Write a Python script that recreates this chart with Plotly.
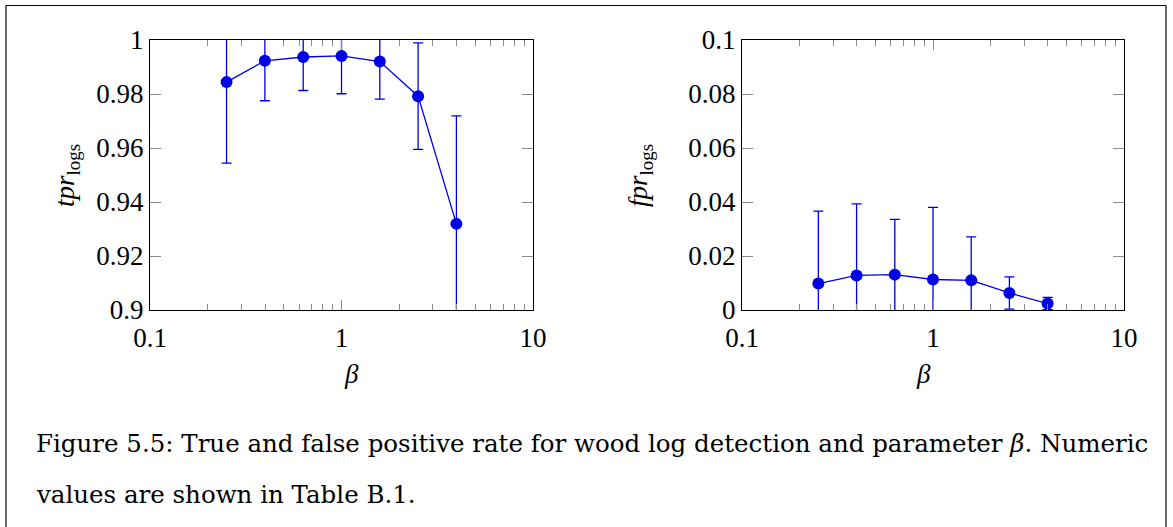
import plotly.graph_objects as go

beta = [0.251, 0.398, 0.631, 1.0, 1.585, 2.512, 3.981]
tpr = [0.9844, 0.9923, 0.9937, 0.9941, 0.9920, 0.9792, 0.9319]
tpr_err = [0.0300, 0.0148, 0.0124, 0.0140, 0.0139, 0.0197, 0.0400]
fpr = [0.0098, 0.0128, 0.0131, 0.0113, 0.0110, 0.0063, 0.0024]
fpr_err = [0.0268, 0.0265, 0.0205, 0.0267, 0.0161, 0.0060, 0.0023]

x_ticks = [0.1, 1, 10]
x_ticktext = ["0.1", "1", "10"]
x_minor = [0.2, 0.3, 0.4, 0.5, 0.6, 0.7, 0.8, 0.9, 2, 3, 4, 5, 6, 7, 8, 9]
tpr_ticks = [0.9, 0.92, 0.94, 0.96, 0.98, 1.0]
tpr_ticktext = ["0.9", "0.92", "0.94", "0.96", "0.98", "1"]
fpr_ticks = [0, 0.02, 0.04, 0.06, 0.08, 0.1]
fpr_ticktext = ["0", "0.02", "0.04", "0.06", "0.08", "0.1"]

W, H = 1173, 527
BLUE = "rgb(0,0,230)"
FONT = "Liberation Serif"

def px(x):
    return x / W

def py(y):
    return (H - y) / H

fig = go.Figure()
for data, err, xa, ya in [(tpr, tpr_err, "x", "y"), (fpr, fpr_err, "x2", "y2")]:
    fig.add_trace(go.Scatter(
        x=beta, y=data, mode="lines+markers", xaxis=xa, yaxis=ya,
        line=dict(color=BLUE, width=1.3),
        marker=dict(color=BLUE, size=12),
        error_y=dict(type="data", array=err, visible=True, color=BLUE,
                     thickness=1.3, width=5),
        showlegend=False, cliponaxis=True))

common_x = dict(type="log", range=[-1, 1], tickvals=x_ticks, ticktext=x_ticktext,
                ticks="inside", ticklen=10, tickcolor="#8c8c8c", tickwidth=1.2,
                showline=True, linecolor="black", linewidth=1.2, mirror="ticks",
                showgrid=False, zeroline=False, automargin=False,
                ticklabelstandoff=3,
                tickfont=dict(family=FONT, size=27, color="black"),
                minor=dict(tickvals=x_minor, ticks="inside", ticklen=6,
                           tickcolor="#8c8c8c", tickwidth=1.2, showgrid=False))
common_y = dict(ticks="inside", ticklen=11, tickcolor="#8c8c8c", tickwidth=1.2,
                showline=True, linecolor="black", linewidth=1.2, mirror="ticks",
                showgrid=False, zeroline=False, automargin=False,
                tickfont=dict(family=FONT, size=27, color="black"))

ydom = [py(310), py(40)]
fig.update_layout(
    template="none",
    width=W, height=H, margin=dict(l=0, r=0, t=0, b=0, pad=0, autoexpand=False),
    paper_bgcolor="white", plot_bgcolor="white",
    xaxis=dict(domain=[px(150), px(533)], anchor="y", **common_x),
    yaxis=dict(domain=ydom, anchor="x", range=[0.9, 1.0], tickvals=tpr_ticks,
               ticktext=tpr_ticktext, **common_y),
    xaxis2=dict(domain=[px(742), px(1124)], anchor="y2", **common_x),
    yaxis2=dict(domain=ydom, anchor="x2", range=[0, 0.1], tickvals=fpr_ticks,
                ticktext=fpr_ticktext, **common_y),
)

ann_font = dict(family=FONT, size=27, color="black")
fig.add_annotation(x=px(342), y=py(374), xref="paper", yref="paper", yanchor="middle",
                   text="<i>β</i>", showarrow=False, font=ann_font)
fig.add_annotation(x=px(933), y=py(374), xref="paper", yref="paper", yanchor="middle",
                   text="<i>β</i>", showarrow=False, font=ann_font)
fig.add_annotation(x=px(48), y=py(176), xref="paper", yref="paper", textangle=-90,
                   yanchor="middle", text="<i>tpr</i><sub>logs</sub>", showarrow=False,
                   font=ann_font)
fig.add_annotation(x=px(640), y=py(176), xref="paper", yref="paper", textangle=-90,
                   yanchor="middle", text="<i>fpr</i><sub>logs</sub>", showarrow=False,
                   font=ann_font)

cap_font = dict(family="DejaVu Serif", size=24.5, color="black")
fig.add_annotation(x=px(34), y=py(443), xref="paper", yref="paper", xanchor="left",
                   yanchor="middle",
                   text="Figure 5.5: True and false positive rate for wood log detection and parameter <i>β</i>. Numeric",
                   showarrow=False, font=cap_font)
fig.add_annotation(x=px(34), y=py(494), xref="paper", yref="paper", xanchor="left",
                   yanchor="middle", text="values are shown in Table B.1.",
                   showarrow=False, font=cap_font)

line = dict(color="black", width=1.2)
fig.add_shape(type="line", xref="paper", yref="paper", x0=px(6), x1=px(1166),
              y0=py(5.5), y1=py(5.5), line=line)
fig.add_shape(type="line", xref="paper", yref="paper", x0=px(6), x1=px(6),
              y0=0, y1=py(5.5), line=line)
fig.add_shape(type="line", xref="paper", yref="paper", x0=px(1166), x1=px(1166),
              y0=0, y1=py(5.5), line=line)

fig.write_html("out.html", config={"displayModeBar": False},
               post_script="document.body.style.margin='0';")
